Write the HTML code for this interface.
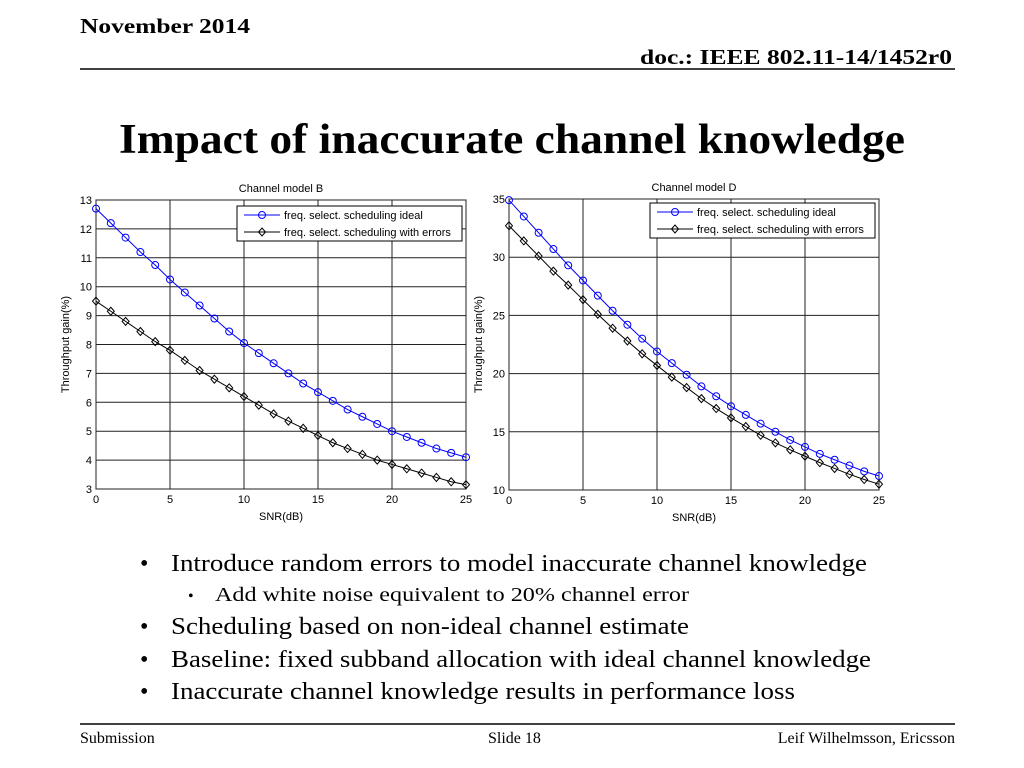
<!DOCTYPE html>
<html><head><meta charset="utf-8"><style>
html,body{margin:0;padding:0;background:#fff;}
svg{display:block;}
.ser{font-family:"Liberation Serif",serif;}
.san{font-family:"Liberation Sans",sans-serif;}
</style></head><body>
<svg id="page" width="1024" height="768" viewBox="0 0 1024 768" xmlns="http://www.w3.org/2000/svg">
<text class="ser" x="80" y="33" font-size="21" font-weight="bold" textLength="170" lengthAdjust="spacingAndGlyphs">November 2014</text>
<text class="ser" x="640" y="64" font-size="21" font-weight="bold" textLength="312" lengthAdjust="spacingAndGlyphs">doc.: IEEE 802.11-14/1452r0</text>
<line x1="80" y1="69" x2="955" y2="69" stroke="#000" stroke-width="1.5"/>
<text class="ser" x="119" y="153" font-size="42" font-weight="bold" textLength="786" lengthAdjust="spacingAndGlyphs">Impact of inaccurate channel knowledge</text>
<g id="chartB"></g>
<g id="chartD"></g>
<g class="ser" font-size="24">
<text x="140" y="571">•</text>
<text x="171" y="571" textLength="696" lengthAdjust="spacingAndGlyphs">Introduce random errors to model inaccurate channel knowledge</text>
<text x="188" y="601" font-size="16">•</text>
<text x="215" y="601" font-size="20" textLength="474" lengthAdjust="spacingAndGlyphs">Add white noise equivalent to 20% channel error</text>
<text x="140" y="634">•</text>
<text x="171" y="634" textLength="518" lengthAdjust="spacingAndGlyphs">Scheduling based on non-ideal channel estimate</text>
<text x="140" y="667">•</text>
<text x="171" y="667" textLength="700" lengthAdjust="spacingAndGlyphs">Baseline: fixed subband allocation with ideal channel knowledge</text>
<text x="140" y="699">•</text>
<text x="171" y="699" textLength="624" lengthAdjust="spacingAndGlyphs">Inaccurate channel knowledge results in performance loss</text>
</g>
<line x1="80" y1="724" x2="955" y2="724" stroke="#000" stroke-width="1.5"/>
<text class="ser" x="80" y="743" font-size="16">Submission</text>
<text class="ser" x="488" y="743" font-size="16">Slide 18</text>
<text class="ser" x="955" y="743" font-size="16" text-anchor="end">Leif Wilhelmsson, Ericsson</text>
</svg>
<script>
const snr = [0,1,2,3,4,5,6,7,8,9,10,11,12,13,14,15,16,17,18,19,20,21,22,23,24,25];
const bIdeal = [12.7,12.2,11.7,11.2,10.75,10.25,9.8,9.35,8.9,8.45,8.05,7.7,7.35,7.0,6.65,6.35,6.05,5.75,5.5,5.25,5.0,4.8,4.6,4.4,4.25,4.1];
const bErr = [9.5,9.15,8.8,8.45,8.1,7.8,7.45,7.1,6.8,6.5,6.2,5.9,5.6,5.35,5.1,4.85,4.6,4.4,4.2,4.0,3.85,3.7,3.55,3.4,3.25,3.15];
const dIdeal = [34.9,33.5,32.1,30.7,29.3,28.0,26.7,25.4,24.2,23.0,21.9,20.9,19.9,18.9,18.05,17.2,16.45,15.7,15.0,14.3,13.7,13.1,12.6,12.1,11.6,11.2];
const dErr = [32.7,31.4,30.1,28.8,27.6,26.35,25.1,23.9,22.8,21.7,20.7,19.7,18.8,17.85,17.0,16.2,15.45,14.7,14.05,13.45,12.9,12.35,11.85,11.35,10.9,10.5];
const xTicks = [0,5,10,15,20,25];
const bYTicks = [3,4,5,6,7,8,9,10,11,12,13];
const dYTicks = [10,15,20,25,30,35];
const legendLabels = ["freq. select. scheduling ideal","freq. select. scheduling with errors"];

const NS = "http://www.w3.org/2000/svg";
function mk(parent, tag, attrs){
  const e = document.createElementNS(NS, tag);
  for (const k in attrs) e.setAttribute(k, attrs[k]);
  parent.appendChild(e);
  return e;
}
function drawChart(g, cfg){
  const {x0,x1,y0,y1,ymin,ymax,yTicks,title,ideal,err,leg} = cfg;
  const sx = v => x0 + (v - 0) / 25 * (x1 - x0);
  const sy = v => y1 - (v - ymin) / (ymax - ymin) * (y1 - y0);
  const bg = mk(g,'rect',{x:x0,y:y0,width:x1-x0,height:y1-y0,fill:'#fff',stroke:'#000','stroke-width':1});
  
  
  xTicks.forEach(t => {
    const l = mk(g,'line',{x1:sx(t),x2:sx(t),y1:y0,y2:y1,stroke:'#222','stroke-width':1});
    
    
    const tx = mk(g,'text',{x:sx(t),y:y1+14,'font-size':11,'text-anchor':'middle','class':'san'});
    tx.textContent = t;
    
    
  });
  yTicks.forEach(t => {
    const l = mk(g,'line',{x1:x0,x2:x1,y1:sy(t),y2:sy(t),stroke:'#222','stroke-width':1});
    
    
    const tx = mk(g,'text',{x:x0-4,y:sy(t)+4,'font-size':11,'text-anchor':'end','class':'san'});
    tx.textContent = t;
    
    
  });
  const tt = mk(g,'text',{x:(x0+x1)/2,y:y0-8,'font-size':11,'text-anchor':'middle','class':'san'});
  tt.textContent = title;
  
  
  const xt = mk(g,'text',{x:(x0+x1)/2,y:y1+31,'font-size':11,'text-anchor':'middle','class':'san'});
  xt.textContent = 'SNR(dB)';
  
  
  const yx = x0-27, yy=(y0+y1)/2;
  const yt = mk(g,'text',{x:yx,y:yy,'font-size':11,'text-anchor':'middle','class':'san',transform:`rotate(-90 ${yx} ${yy})`});
  yt.textContent = 'Throughput gain(%)';
  
  
  const series = [[ideal,'#0000ff','circle'],[err,'#000','diamond']];
  series.forEach(([vals,col,shape]) => {
    const pts = vals.map((v,i)=>sx(snr[i])+','+sy(v)).join(' ');
    const pl = mk(g,'polyline',{points:pts,fill:'none',stroke:col,'stroke-width':1});
    
    
    vals.forEach((v,i)=>{
      const cx=sx(snr[i]), cy=sy(v);
      let m;
      if (shape==='circle') m = mk(g,'circle',{cx:cx,cy:cy,r:3.5,fill:'none',stroke:col,'stroke-width':1});
      else m = mk(g,'polygon',{points:`${cx},${cy-4} ${cx+3.5},${cy} ${cx},${cy+4} ${cx-3.5},${cy}`,fill:'none',stroke:col,'stroke-width':1});
      
      
    });
  });
  const lg = mk(g,'g',{});
  
  
  mk(lg,'rect',{x:leg[0],y:leg[1],width:leg[2]-leg[0],height:leg[3]-leg[1],fill:'#fff',stroke:'#000','stroke-width':1});
  series.forEach(([vals,col,shape],k)=>{
    const ly = leg[1]+9+k*17, lx=leg[0]+7;
    const e = mk(lg,'g',{});
    
    
    mk(e,'line',{x1:lx,x2:lx+36,y1:ly,y2:ly,stroke:col,'stroke-width':1});
    if (shape==='circle') mk(e,'circle',{cx:lx+18,cy:ly,r:3.5,fill:'none',stroke:col});
    else mk(e,'polygon',{points:`${lx+18},${ly-4} ${lx+21.5},${ly} ${lx+18},${ly+4} ${lx+14.5},${ly}`,fill:'none',stroke:col});
    const t = mk(e,'text',{x:lx+40,y:ly+4,'font-size':11,'class':'san'});
    t.textContent = legendLabels[k];
  });
}
drawChart(document.getElementById('chartB'),{x0:96,x1:466,y0:200,y1:489,ymin:3,ymax:13,yTicks:bYTicks,title:'Channel model B',ideal:bIdeal,err:bErr,leg:[237,206,462,241]});
drawChart(document.getElementById('chartD'),{x0:509,x1:879,y0:199,y1:490,ymin:10,ymax:35,yTicks:dYTicks,title:'Channel model D',ideal:dIdeal,err:dErr,leg:[650,203,875,238]});
</script>
</body></html>
